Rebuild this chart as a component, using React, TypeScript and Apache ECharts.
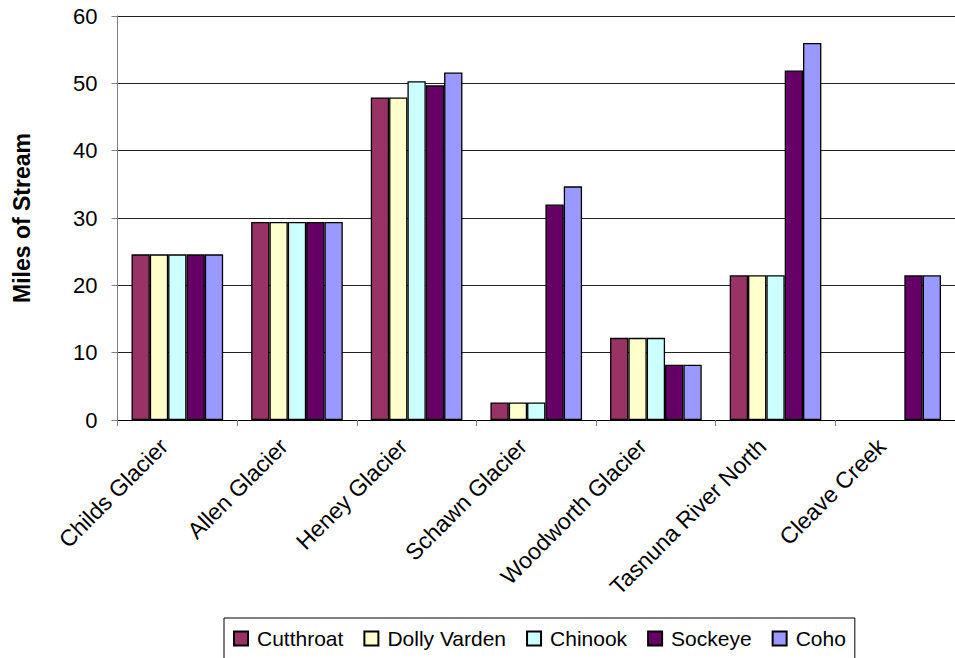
import React, { useEffect, useRef } from "react";
import * as echarts from "echarts";

const categories = [
  "Childs Glacier",
  "Allen Glacier",
  "Heney Glacier",
  "Schawn Glacier",
  "Woodworth Glacier",
  "Tasnuna River North",
  "Cleave Creek",
];
const cutthroat = [24.6, 29.4, 47.9, 2.6, 12.2, 21.5, null];
const dollyVarden = [24.6, 29.4, 47.9, 2.6, 12.2, 21.5, null];
const chinook = [24.6, 29.4, 50.3, 2.6, 12.2, 21.5, null];
const sockeye = [24.6, 29.4, 49.7, 32.0, 8.2, 51.9, 21.5];
const coho = [24.6, 29.4, 51.6, 34.7, 8.2, 56.0, 21.5];

const seriesNames = ["Cutthroat", "Dolly Varden", "Chinook", "Sockeye", "Coho"];
const seriesData = [cutthroat, dollyVarden, chinook, sockeye, coho];
const seriesColors = ["#993366", "#FFFFCC", "#CCFFFF", "#660066", "#9999FF"];

const FONT = "'Liberation Sans', Arial, sans-serif";

export default function App() {
  const ref = useRef<HTMLDivElement>(null);
  useEffect(() => {
    if (!ref.current) return;
    const chart = echarts.init(ref.current, null, { renderer: "svg" });
    chart.setOption({
      animation: false,
      backgroundColor: "#ffffff",
      textStyle: { fontFamily: FONT },
      grid: { left: 117.5, top: 16, bottom: 238, right: -10, containLabel: false },
      legend: {
        data: seriesNames,
        left: 224,
        top: 618,
        orient: "horizontal",
        itemWidth: 14,
        itemHeight: 14,
        itemGap: 20,
        padding: [10, 9, 10, 9],
        borderColor: "#000",
        borderWidth: 1,
        icon: "rect",
        textStyle: { fontSize: 21, color: "#000", fontFamily: FONT, padding: [0, 0, 0, 4] },
      },
      xAxis: {
        type: "category",
        data: categories,
        axisLine: { lineStyle: { color: "#000", width: 1 } },
        axisTick: { show: true, length: 6, lineStyle: { color: "#808080" } },
        axisLabel: {
          rotate: 45,
          interval: 0,
          fontSize: 23,
          color: "#000",
          fontFamily: FONT,
          margin: 9,
          padding: [0, 19, 0, 0],
        },
      },
      yAxis: {
        type: "value",
        min: 0,
        max: 60,
        interval: 10,
        name: "Miles of Stream",
        nameLocation: "middle",
        nameRotate: 90,
        nameGap: 84,
        nameTextStyle: { fontSize: 23, fontWeight: "bold", color: "#000", fontFamily: FONT },
        axisLine: { show: true, lineStyle: { color: "#808080", width: 1 } },
        axisTick: { show: true, length: 6, lineStyle: { color: "#808080" } },
        axisLabel: { fontSize: 22, color: "#000", fontFamily: FONT, margin: 20 },
        splitLine: { show: true, lineStyle: { color: "#222", width: 1 } },
      },
      series: seriesNames.map((name, i) => ({
        name,
        type: "bar",
        data: seriesData[i],
        barGap: "0%",
        barCategoryGap: "23.4%",
        itemStyle: { color: seriesColors[i], borderColor: "#000", borderWidth: 1.3 },
      })),
    });
    return () => chart.dispose();
  }, []);
  return (
    <div
      ref={ref}
      style={{ position: "absolute", left: 0, top: 0, width: 955, height: 658 }}
    />
  );
}
